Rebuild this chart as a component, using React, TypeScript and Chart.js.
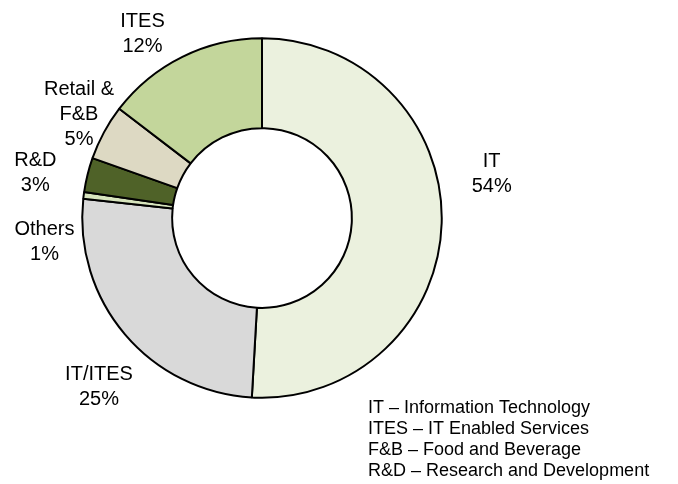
import React, { useEffect, useRef } from "react";
import { Chart, registerables } from "chart.js";

Chart.register(...registerables);

const categories = ["IT", "IT/ITES", "Others", "R&D", "Retail & F&B", "ITES"];
const shares = [50.9, 25.8, 0.6, 3.1, 5.0, 14.6];
const labelLines = [["IT", "54%"], ["IT/ITES", "25%"], ["Others", "1%"], ["R&D", "3%"], ["Retail &", "F&B", "5%"], ["ITES", "12%"]];
const glossary = [
  "IT \u2013 Information Technology",
  "ITES \u2013 IT Enabled Services",
  "F&B \u2013 Food and Beverage",
  "R&D \u2013 Research and Development",
];

const sliceColors = ["#ebf1de", "#d9d9d9", "#d7e4bd", "#4f6228", "#ddd9c3", "#c3d69b"];
// label first-line baseline offsets from the doughnut center
const labelOffsets = [
  [229.7, -50.8],
  [-163, 162.2],
  [-217.5, 16.7],
  [-226.7, -52.5],
  [-183, -123.3],
  [-119.5, -190.8],
];

const labelPlugin = {
  id: "customLabels",
  afterDraw(chart: any) {
    const ctx = chart.ctx;
    const meta = chart.getDatasetMeta(0);
    const arc = meta.data[0];
    if (!arc) return;
    const cx = arc.x;
    const cy = arc.y;
    ctx.save();
    ctx.fillStyle = "#000";
    ctx.textAlign = "center";
    ctx.textBaseline = "alphabetic";
    ctx.font = "20px 'Liberation Sans', Arial, sans-serif";
    labelLines.forEach((lines, i) => {
      const [dx, dy] = labelOffsets[i];
      lines.forEach((t, j) => {
        ctx.fillText(t, cx + dx, cy + dy + j * 25);
      });
    });
    ctx.textAlign = "left";
    ctx.font = "18px 'Liberation Sans', Arial, sans-serif";
    glossary.forEach((t, j) => {
      ctx.fillText(t, 368, 412.5 + j * 21.1);
    });
    ctx.restore();
  },
};

export default function App() {
  const ref = useRef<HTMLCanvasElement>(null);
  useEffect(() => {
    if (!ref.current) return;
    const chart = new Chart(ref.current, {
      type: "doughnut",
      data: {
        labels: categories,
        datasets: [
          {
            data: shares,
            backgroundColor: sliceColors,
            borderColor: "#000",
            borderWidth: 2,
          },
        ],
      },
      options: {
        responsive: false,
        animation: false,
        cutout: "50%",
        layout: { padding: { left: 81.25, right: 235.25, top: 37.25, bottom: 85.25 } },
        plugins: { legend: { display: false }, tooltip: { enabled: false } },
      },
      plugins: [labelPlugin],
    });
    return () => chart.destroy();
  }, []);
  return (
    <div style={{ position: "fixed", left: 0, top: 0, width: 678, height: 484, background: "#fff" }}>
      <canvas ref={ref} width={678} height={484} />
    </div>
  );
}
